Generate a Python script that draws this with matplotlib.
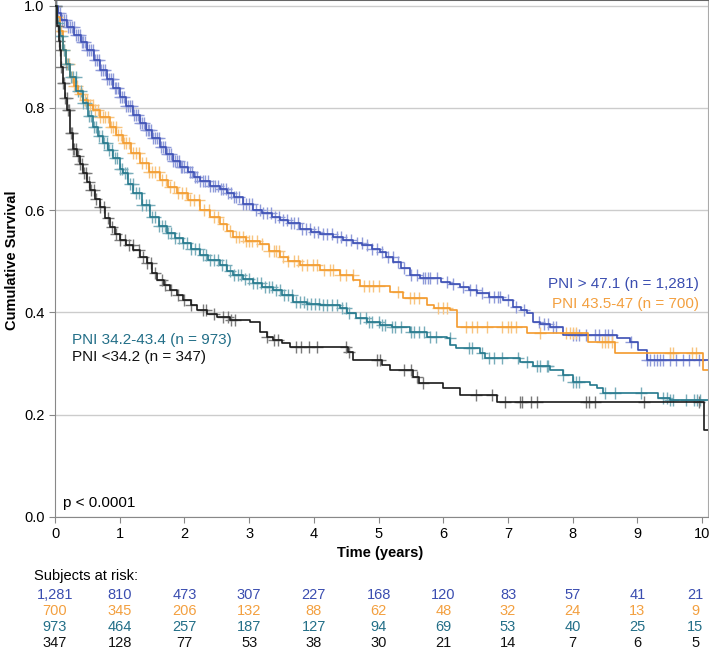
import numpy as np
import matplotlib
matplotlib.use("Agg")
import matplotlib.pyplot as plt
import matplotlib.transforms as mtransforms

plt.rcParams['font.family'] = ['Liberation Sans', 'DejaVu Sans']

# ---- data (step points: time in years, survival) ----
blue_t = [0, 0.05, 0.1, 0.19, 0.3, 0.4, 0.49, 0.6, 0.7, 0.8, 0.9, 1.0, 1.1, 1.2, 1.31, 1.4, 1.5,
          1.62, 1.72, 1.82, 1.93, 2.05, 2.15, 2.24, 2.4, 2.55, 2.66, 2.76, 2.9, 3.06, 3.2, 3.35,
          3.48, 3.6, 3.79, 3.95, 4.1, 4.3, 4.45, 4.61, 4.75, 4.9, 5.02, 5.12, 5.23, 5.35, 5.49,
          5.64, 5.97, 6.1, 6.26, 6.4, 6.52, 6.7, 6.92, 7.08, 7.2, 7.29, 7.39, 7.5, 7.65, 7.85,
          8.69, 8.89, 9.01, 9.15, 10.1]
blue_s = [1.0, 0.985, 0.972, 0.958, 0.942, 0.928, 0.913, 0.893, 0.874, 0.856, 0.838, 0.821, 0.804,
          0.787, 0.770, 0.756, 0.741, 0.724, 0.710, 0.697, 0.684, 0.674, 0.665, 0.657, 0.648, 0.641,
          0.633, 0.626, 0.613, 0.600, 0.594, 0.587, 0.580, 0.574, 0.564, 0.558, 0.553, 0.548, 0.541,
          0.535, 0.532, 0.525, 0.518, 0.508, 0.499, 0.486, 0.473, 0.468, 0.459, 0.455, 0.450, 0.444,
          0.438, 0.431, 0.424, 0.411, 0.405, 0.399, 0.381, 0.377, 0.372, 0.356, 0.350, 0.342, 0.326,
          0.307, 0.307]

orange_t = [0, 0.03, 0.07, 0.12, 0.17, 0.23, 0.3, 0.36, 0.43, 0.51, 0.59, 0.7, 0.85, 0.95, 1.05,
            1.18, 1.31, 1.45, 1.62, 1.75, 1.89, 2.05, 2.24, 2.4, 2.55, 2.65, 2.75, 2.95, 3.17, 3.3,
            3.48, 3.6, 3.79, 4.1, 4.4, 4.61, 4.71, 5.18, 5.38, 5.75, 5.85, 6.1, 6.21, 7.30, 8.24,
            8.65, 10.02, 10.1]
orange_s = [1.0, 0.978, 0.95, 0.913, 0.885, 0.860, 0.842, 0.828, 0.815, 0.805, 0.796, 0.783, 0.763,
            0.747, 0.731, 0.711, 0.692, 0.675, 0.659, 0.646, 0.633, 0.619, 0.601, 0.586, 0.573,
            0.560, 0.547, 0.540, 0.533, 0.520, 0.508, 0.500, 0.493, 0.483, 0.473, 0.463, 0.452,
            0.440, 0.428, 0.414, 0.408, 0.404, 0.371, 0.359, 0.342, 0.320, 0.287, 0.287]

teal_t = [0, 0.03, 0.07, 0.12, 0.17, 0.23, 0.33, 0.43, 0.51, 0.59, 0.67, 0.74, 0.82, 0.9, 1.0,
          1.05, 1.13, 1.21, 1.34, 1.47, 1.6, 1.73, 1.85, 1.98, 2.1, 2.24, 2.37, 2.55, 2.65, 2.75,
          2.9, 3.06, 3.2, 3.37, 3.5, 3.68, 3.9, 4.1, 4.4, 4.51, 4.65, 4.82, 5.02, 5.2, 5.49, 5.75,
          6.06, 6.11, 6.2, 6.57, 6.65, 7.19, 7.39, 7.65, 7.85, 8.0, 8.27, 8.38, 8.47, 9.32, 9.5, 10.1]
teal_s = [1.0, 0.966, 0.94, 0.913, 0.885, 0.860, 0.833, 0.809, 0.785, 0.763, 0.746, 0.731, 0.717,
          0.702, 0.680, 0.672, 0.652, 0.633, 0.610, 0.587, 0.570, 0.555, 0.545, 0.535, 0.524, 0.512,
          0.503, 0.493, 0.482, 0.473, 0.465, 0.457, 0.450, 0.444, 0.434, 0.420, 0.417, 0.414, 0.408,
          0.399, 0.390, 0.381, 0.375, 0.371, 0.362, 0.352, 0.350, 0.336, 0.330, 0.320, 0.311, 0.303,
          0.295, 0.287, 0.278, 0.264, 0.258, 0.252, 0.242, 0.233, 0.229, 0.229]

black_t = [0, 0.03, 0.06, 0.08, 0.1, 0.12, 0.15, 0.19, 0.23, 0.28, 0.34, 0.39, 0.43, 0.49, 0.54,
           0.62, 0.70, 0.78, 0.85, 0.92, 1.0, 1.1, 1.21, 1.32, 1.42, 1.5, 1.58, 1.68, 1.78, 1.88,
           1.98, 2.1, 2.19, 2.35, 2.5, 2.7, 3.01, 3.17, 3.27, 3.37, 3.5, 3.63, 4.53, 4.61, 5.05,
           5.18, 5.53, 5.62, 6.0, 6.26, 6.83, 10.03, 10.1]
black_s = [1.0, 0.96, 0.93, 0.913, 0.88, 0.848, 0.82, 0.796, 0.751, 0.720, 0.705, 0.690, 0.672,
           0.655, 0.639, 0.622, 0.606, 0.585, 0.567, 0.553, 0.542, 0.532, 0.522, 0.508, 0.496,
           0.478, 0.463, 0.453, 0.444, 0.434, 0.424, 0.414, 0.405, 0.397, 0.391, 0.385, 0.381,
           0.362, 0.352, 0.346, 0.340, 0.333, 0.323, 0.307, 0.297, 0.287, 0.274, 0.262, 0.252,
           0.239, 0.225, 0.170, 0.170]

# censoring times (years)
blue_cens = [0.02, 0.05, 0.08, 0.11, 0.14, 0.17, 0.2, 0.23, 0.26, 0.29, 0.32, 0.35, 0.38, 0.41,
             0.44, 0.47, 0.5, 0.53, 0.56, 0.59, 0.62, 0.65, 0.68, 0.71, 0.74, 0.77, 0.8, 0.83,
             0.86, 0.89, 0.92, 0.95, 0.98, 1.01, 1.04, 1.07, 1.1, 1.13, 1.16, 1.19, 1.22, 1.25,
             1.28, 1.31, 1.34, 1.37, 1.4, 1.43, 1.46, 1.49, 1.52, 1.55, 1.58, 1.61, 1.64, 1.67,
             1.7, 1.73, 1.76, 1.79, 1.82, 1.85, 1.88, 1.91, 1.94, 1.97, 2.0, 2.04, 2.08, 2.12,
             2.16, 2.2, 2.24, 2.28, 2.32, 2.36, 2.4, 2.44, 2.48, 2.52, 2.56, 2.6, 2.64, 2.68,
             2.72, 2.76, 2.8, 2.85, 2.9, 2.95, 3.0, 3.05, 3.1, 3.16, 3.22, 3.28, 3.34, 3.4, 3.46,
             3.52, 3.58, 3.64, 3.7, 3.76, 3.82, 3.88, 3.94, 4.0, 4.07, 4.14, 4.21, 4.28, 4.35,
             4.42, 4.5, 4.58, 4.66, 4.74, 4.82, 4.9, 4.98, 5.06, 5.15, 5.22, 5.3, 5.4, 5.5, 5.6,
             5.68, 5.72, 5.76, 5.8, 5.9, 6.05, 6.15, 6.3, 6.42, 6.5, 6.6, 6.7, 6.78, 6.84, 6.88,
             7.0, 7.12, 7.25, 7.48, 7.55, 7.62, 7.7, 7.74, 8.0, 8.05, 8.1, 8.2, 8.35, 8.4, 8.5,
             8.55, 8.6, 8.9, 9.15, 9.2, 9.25, 9.3, 9.35, 9.4, 9.5, 9.6, 9.7, 9.8, 9.95]
orange_cens = [0.03, 0.07, 0.1, 0.14, 0.18, 0.22, 0.26, 0.3, 0.34, 0.38, 0.42, 0.46, 0.5, 0.54,
               0.58, 0.62, 0.66, 0.7, 0.74, 0.78, 0.82, 0.86, 0.9, 0.94, 0.98, 1.02, 1.06, 1.1,
               1.15, 1.2, 1.25, 1.3, 1.35, 1.4, 1.45, 1.5, 1.55, 1.6, 1.66, 1.72, 1.78, 1.84, 1.9,
               1.96, 2.02, 2.08, 2.15, 2.22, 2.3, 2.38, 2.45, 2.52, 2.6, 2.7, 2.8, 2.85, 2.9, 2.95,
               3.0, 3.05, 3.12, 3.2, 3.3, 3.38, 3.42, 3.46, 3.52, 3.6, 3.7, 3.75, 3.82, 3.9, 3.98,
               4.05, 4.15, 4.25, 4.3, 4.4, 4.5, 4.6, 4.78, 4.85, 4.92, 5.0, 5.3, 5.48, 5.55, 5.62,
               5.92, 6.0, 6.05, 6.35, 6.45, 6.52, 6.68, 6.9, 7.0, 7.05, 7.12, 7.5, 7.9, 7.95, 8.0,
               8.05, 8.45, 8.5, 8.55, 8.6, 9.5, 9.55, 9.85, 9.9]
teal_cens = [0.02, 0.05, 0.08, 0.11, 0.14, 0.17, 0.2, 0.24, 0.28, 0.32, 0.36, 0.4, 0.44, 0.48,
             0.52, 0.56, 0.6, 0.64, 0.68, 0.72, 0.76, 0.8, 0.84, 0.88, 0.92, 0.96, 1.0, 1.04,
             1.08, 1.12, 1.16, 1.2, 1.25, 1.3, 1.35, 1.4, 1.45, 1.5, 1.55, 1.6, 1.65, 1.7, 1.75,
             1.8, 1.86, 1.92, 1.98, 2.04, 2.1, 2.16, 2.22, 2.28, 2.34, 2.4, 2.46, 2.52, 2.58,
             2.64, 2.7, 2.76, 2.82, 2.88, 2.94, 3.0, 3.06, 3.12, 3.18, 3.24, 3.3, 3.36, 3.42,
             3.48, 3.54, 3.6, 3.66, 3.72, 3.78, 3.84, 3.9, 3.96, 4.02, 4.08, 4.14, 4.2, 4.28,
             4.36, 4.44, 4.5, 4.55, 4.72, 4.8, 4.85, 4.9, 5.0, 5.05, 5.1, 5.2, 5.25, 5.35, 5.5,
             5.55, 5.62, 5.7, 5.8, 5.88, 6.1, 6.4, 6.45, 6.6, 6.7, 6.78, 6.9, 7.15, 7.3, 7.45,
             7.5, 7.6, 7.62, 7.85, 8.0, 8.05, 8.1, 8.5, 8.65, 9.05, 9.4, 9.45, 9.5, 9.55, 9.75,
             9.88, 9.92, 9.97]
black_cens = [0.02, 0.04, 0.06, 0.08, 0.1, 0.12, 0.14, 0.16, 0.18, 0.2, 0.22, 0.24, 0.26, 0.28,
              0.3, 0.33, 0.36, 0.39, 0.42, 0.45, 0.48, 0.52, 0.56, 0.6, 0.64, 0.7, 0.76, 0.82,
              0.88, 0.94, 1.0, 1.08, 1.15, 1.2, 1.3, 1.36, 1.42, 1.48, 1.55, 1.65, 1.7, 1.8, 1.9,
              2.0, 2.1, 2.28, 2.34, 2.45, 2.6, 2.68, 2.72, 2.78, 3.28, 3.38, 3.45, 3.72, 3.8,
              3.92, 4.05, 4.5, 4.55, 4.98, 5.02, 5.4, 5.5, 5.6, 5.68, 6.5, 6.75, 6.95, 7.18,
              7.22, 7.35, 7.45, 8.2, 8.25, 8.35, 9.1, 9.95]

labels = ["PNI > 47.1 (n = 1,281)", "PNI 43.5-47 (n = 700)",
          "PNI 34.2-43.4 (n = 973)", "PNI <34.2 (n = 347)"]
risk_times = [0, 1, 2, 3, 4, 5, 6, 7, 8, 9, 10]
blue_risk = ["1,281", "810", "473", "307", "227", "168", "120", "83", "57", "41", "21"]
orange_risk = ["700", "345", "206", "132", "88", "62", "48", "32", "24", "13", "9"]
teal_risk = ["973", "464", "257", "187", "127", "94", "69", "53", "40", "25", "15"]
black_risk = ["347", "128", "77", "53", "38", "30", "21", "14", "7", "6", "5"]

line_cols = ['#3c4fb4', '#f39a2c', '#23788c', '#1a1a1a']
cens_cols = ['#8f9bd9', '#f8c47f', '#78adba', '#7a7a7a']
text_cols = ['#3a4db0', '#f3a040', '#236f88', '#111111']

fig = plt.figure(figsize=(7.09, 6.52), dpi=100)
ax = fig.add_axes([55 / 709, 135 / 652, 653 / 709, 517 / 652])

curves = [(blue_t, blue_s, blue_cens), (orange_t, orange_s, orange_cens),
          (teal_t, teal_s, teal_cens), (black_t, black_s, black_cens)]

# draw from the back (black) to the front (blue)
for i in [3, 2, 1, 0]:
    t, s, cens = curves[i]
    t = np.array(t)
    s = np.array(s)
    idx = np.searchsorted(t, cens, side='right') - 1
    ax.plot(cens, s[idx], linestyle='none', marker='+', ms=9, mew=1.0,
            color=cens_cols[i], zorder=2 + i * 0.1)
    ax.plot(t, s, drawstyle='steps-post', color=line_cols[i], lw=1.2, zorder=3 + i * 0.1)

ax.set_xlim(0, 10.09)
ax.set_ylim(0, 1.011)
ax.set_xticks(range(0, 11))
ax.set_yticks([0.0, 0.2, 0.4, 0.6, 0.8, 1.0])
ax.set_yticklabels(['0.0', '0.2', '0.4', '0.6', '0.8', '1.0'])
ax.tick_params(axis='both', labelsize=10.5, length=4, color='#888888', direction='out')
ax.tick_params(axis='x', pad=3)
ax.grid(axis='y', color='#cccccc', lw=1)
ax.set_axisbelow(True)
for side in ['left', 'bottom']:
    ax.spines[side].set_color('#888888')
ax.spines['top'].set_color('#666666')
ax.spines['top'].set_linewidth(1.5)
ax.spines['right'].set_color('#aaaaaa')

fig.text(12 / 709, 1 - 260 / 652, "Cumulative Survival", rotation=90, fontsize=10.5,
         fontweight='bold', ha='center', va='center')
fig.text(380 / 709, 1 - 553 / 652, "Time (years)", fontsize=10.5, fontweight='bold',
         ha='center', va='center')

# group labels
ax.text(9.95, 0.456, labels[0], color=text_cols[0], fontsize=11, ha='right', va='center')
ax.text(9.95, 0.417, labels[1], color=text_cols[1], fontsize=11, ha='right', va='center')
ax.text(0.27, 0.346, labels[2], color=text_cols[2], fontsize=11, ha='left', va='center')
ax.text(0.27, 0.313, labels[3], color=text_cols[3], fontsize=11, ha='left', va='center')
ax.text(0.12, 0.027, "p < 0.0001", fontsize=11, ha='left', va='center')

# subjects at risk table
trans = mtransforms.blended_transform_factory(ax.transData, fig.transFigure)
fig.text(34 / 709, 1 - 576 / 652, "Subjects at risk:", fontsize=10.5, ha='left', va='center')
rows = [blue_risk, orange_risk, teal_risk, black_risk]
row_y = [595, 611, 627, 643]
for r, vals in enumerate(rows):
    for x, v in zip(risk_times, vals):
        ax.text(min(x, 9.89), 1 - row_y[r] / 652, v, transform=trans, fontsize=10.5,
                ha='center', va='center', color=text_cols[r], clip_on=False)

fig.savefig("out.png", dpi=100)
